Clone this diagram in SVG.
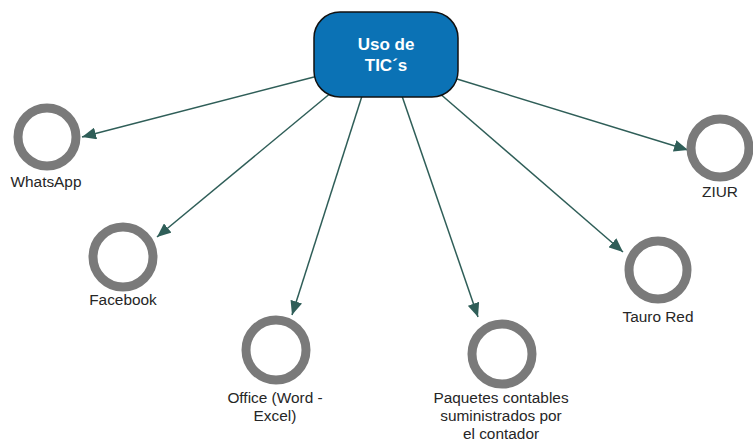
<svg xmlns="http://www.w3.org/2000/svg" width="753" height="442" viewBox="0 0 753 442">
<style>
.ring{fill:#fff;stroke:#7a7a7a;stroke-width:9}
.lbl{font-family:"Liberation Sans",Arial,sans-serif;font-size:15.4px;fill:#262626;text-anchor:middle}
.edge{stroke:#2f5e58;stroke-width:1.5;fill:none;marker-end:url(#ah)}
.ctext{font-family:"Liberation Sans",Arial,sans-serif;font-size:17px;font-weight:bold;fill:#fff;text-anchor:middle}
</style>
<defs>
<marker id="ah" markerUnits="userSpaceOnUse" viewBox="0 0 14 12" refX="14" refY="6" markerWidth="14" markerHeight="12" orient="auto">
<path d="M0,0 L14,6 L0,12 z" fill="#2f5e58"/>
</marker>
</defs>
<rect width="753" height="442" fill="#fff"/>
<g id="connectors">
<line class="edge" x1="314" y1="77" x2="82" y2="137"/>
<line class="edge" x1="332" y1="92" x2="157" y2="237"/>
<line class="edge" x1="362" y1="96" x2="292" y2="315"/>
<line class="edge" x1="402" y1="96" x2="478" y2="317"/>
<line class="edge" x1="438" y1="92" x2="623" y2="252"/>
<line class="edge" x1="457" y1="79" x2="688" y2="150"/>
</g>
<g id="center">
<rect x="314" y="12" width="144" height="85" rx="26" ry="26" fill="#0b72b5" stroke="#111" stroke-width="1.5"/>
<text class="ctext" x="386" y="50">Uso de</text>
<text class="ctext" x="386" y="71">TIC´s</text>
</g>
<g id="whatsapp">
<circle class="ring" cx="47" cy="137" r="29"/>
<text class="lbl" x="46" y="187">WhatsApp</text>
</g>
<g id="facebook">
<circle class="ring" cx="123" cy="257" r="30"/>
<text class="lbl" x="123" y="305">Facebook</text>
</g>
<g id="office">
<circle class="ring" cx="276" cy="350" r="30"/>
<text class="lbl" x="275" y="403">Office (Word -</text>
<text class="lbl" x="275" y="421">Excel)</text>
</g>
<g id="paquetes">
<circle class="ring" cx="502" cy="354" r="30"/>
<text class="lbl" x="501" y="403">Paquetes contables</text>
<text class="lbl" x="501" y="421">suministrados por</text>
<text class="lbl" x="501" y="439">el contador</text>
</g>
<g id="tauro">
<circle class="ring" cx="658" cy="270" r="29"/>
<text class="lbl" x="658" y="322">Tauro Red</text>
</g>
<g id="ziur">
<circle class="ring" cx="720" cy="148" r="29"/>
<text class="lbl" x="720" y="197">ZIUR</text>
</g>
</svg>
